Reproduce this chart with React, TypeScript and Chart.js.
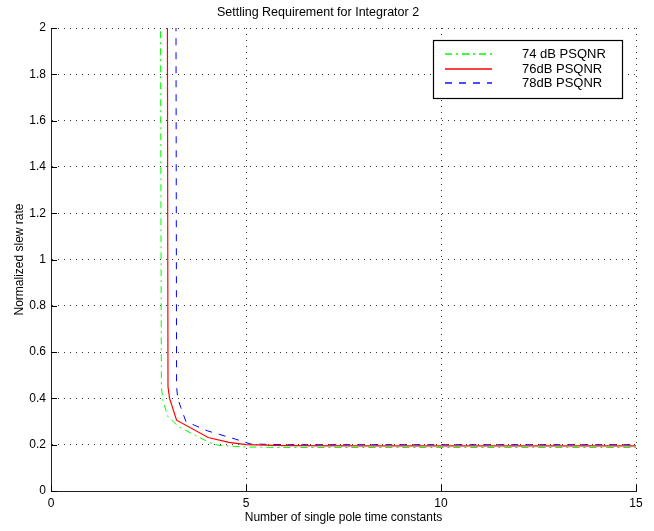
import React, { useEffect, useRef } from "react";
import { Chart, registerables } from "chart.js";

Chart.register(...registerables);

const TITLE = "Settling Requirement for Integrator 2";
const X_LABEL = "Number of single pole time constants";
const Y_LABEL = "Normalized slew rate";

const SERIES_NAMES = ["74 dB PSQNR", "76dB PSQNR", "78dB PSQNR"];
const SERIES_COLORS = ["#00ff00", "#ff0000", "#0000ff"];
const SERIES_DASH = [[7, 4, 2, 4], [], [7, 7]];

// 74 dB PSQNR (green, dash-dot)
const X74 = [2.8, 2.83, 2.87, 3.0, 3.28, 4.05, 4.3, 5.0, 6.0, 8.0, 10.0, 12.0, 15.0];
const Y74 = [2.5, 0.45, 0.39, 0.32, 0.277, 0.21, 0.197, 0.19, 0.188, 0.188, 0.188, 0.188, 0.188];

// 76 dB PSQNR (red, solid)
const X76 = [2.98, 3.0, 3.04, 3.22, 4.03, 4.56, 5.0, 6.0, 8.0, 10.0, 12.0, 15.0];
const Y76 = [2.5, 0.45, 0.4, 0.306, 0.231, 0.21, 0.2, 0.196, 0.195, 0.195, 0.195, 0.195];

// 78 dB PSQNR (blue, dashed)
const X78 = [3.2, 3.22, 3.25, 3.33, 3.46, 4.01, 4.73, 5.12, 6.0, 8.0, 10.0, 12.0, 15.0];
const Y78 = [2.5, 0.45, 0.4, 0.36, 0.3, 0.26, 0.224, 0.203, 0.2, 0.2, 0.2, 0.2, 0.2];

const X_TICKS = [0, 5, 10, 15];
const X_TICK_LABELS = ["0", "5", "10", "15"];
const Y_TICKS = [0, 0.2, 0.4, 0.6, 0.8, 1, 1.2, 1.4, 1.6, 1.8, 2];
const Y_TICK_LABELS = ["0", "0.2", "0.4", "0.6", "0.8", "1", "1.2", "1.4", "1.6", "1.8", "2"];

const FONT = "'Liberation Sans', Arial, Helvetica, sans-serif";

const toPts = (xs: number[], ys: number[]) => xs.map((x, i) => ({ x, y: ys[i] }));

const inwardTicks = {
  id: "inwardTicks",
  afterDraw(chart: any) {
    const { ctx, chartArea, scales } = chart;
    const xs = scales.x;
    const ys = scales.y;
    ctx.save();
    ctx.strokeStyle = "#000";
    ctx.lineWidth = 1;
    ctx.setLineDash([]);
    ctx.beginPath();
    X_TICKS.forEach((v) => {
      const px = Math.round(xs.getPixelForValue(v)) + 0.5;
      ctx.moveTo(px, chartArea.bottom);
      ctx.lineTo(px, chartArea.bottom - 6);
    });
    Y_TICKS.forEach((v) => {
      const py = Math.round(ys.getPixelForValue(v)) + 0.5;
      ctx.moveTo(chartArea.left, py);
      ctx.lineTo(chartArea.left + 6, py);
    });
    ctx.stroke();
    ctx.restore();
  },
};

const matlabLegend = {
  id: "matlabLegend",
  afterDraw(chart: any) {
    const { ctx } = chart;
    const bx = 433.5, by = 40.5, bw = 189, bh = 58;
    ctx.save();
    ctx.setLineDash([]);
    ctx.fillStyle = "#fff";
    ctx.fillRect(bx, by, bw, bh);
    ctx.strokeStyle = "#000";
    ctx.lineWidth = 1.2;
    ctx.strokeRect(bx, by, bw, bh);
    const rows = [54, 69, 83];
    for (let i = 0; i < 3; i++) {
      const ry = rows[i];
      ctx.save();
      ctx.beginPath();
      ctx.strokeStyle = SERIES_COLORS[i];
      ctx.lineWidth = 1.4;
      ctx.setLineDash(SERIES_DASH[i]);
      ctx.moveTo(445, ry);
      ctx.lineTo(492, ry);
      ctx.stroke();
      ctx.restore();
    }
    ctx.fillStyle = "#000";
    ctx.font = `13px ${FONT}`;
    ctx.textBaseline = "middle";
    ctx.textAlign = "left";
    for (let i = 0; i < 3; i++) {
      ctx.fillText(SERIES_NAMES[i], 522, rows[i]);
    }
    ctx.restore();
  },
};

export default function App() {
  const ref = useRef<HTMLCanvasElement>(null);
  useEffect(() => {
    document.body.style.margin = "0";
    const mk = (i: number, xs: number[], ys: number[]) => ({
      label: SERIES_NAMES[i],
      data: toPts(xs, ys),
      borderColor: SERIES_COLORS[i],
      borderWidth: i === 1 ? 1.2 : 1,
      borderDash: SERIES_DASH[i],
      pointRadius: 0,
      fill: false,
      tension: 0,
    });
    const chart = new Chart(ref.current!, {
      type: "line",
      data: {
        datasets: [mk(0, X74, Y74), mk(1, X76, Y76), mk(2, X78, Y78)],
      },
      options: {
        animation: false,
        responsive: false,
        maintainAspectRatio: false,
        layout: { padding: { left: 0, right: 18, top: 0, bottom: 0 } },
        plugins: {
          legend: { display: false },
          tooltip: { enabled: false },
          title: {
            display: true,
            text: TITLE,
            color: "#000",
            font: { family: FONT, size: 12.5, weight: "normal" },
            padding: { top: 5, bottom: 8 },
          },
        },
        scales: {
          x: {
            type: "linear",
            min: 0,
            max: 15,
            afterBuildTicks: (s: any) => {
              s.ticks = X_TICKS.map((v) => ({ value: v }));
            },
            afterFit: (s: any) => {
              s.height = 40;
            },
            ticks: {
              color: "#000",
              font: { family: FONT, size: 12 },
              padding: 5,
              maxRotation: 0,
              callback: (_v: any, i: number) => X_TICK_LABELS[i],
            },
            grid: {
              color: "#333",
              lineWidth: 1,
              drawTicks: false,
            },
            border: { display: true, color: "#222", width: 1, dash: [1, 5] },
            title: {
              display: true,
              text: X_LABEL,
              color: "#000",
              font: { family: FONT, size: 12 },
              padding: { top: 0, bottom: 6 },
            },
          },
          y: {
            type: "linear",
            min: 0,
            max: 2,
            afterBuildTicks: (s: any) => {
              s.ticks = Y_TICKS.map((v) => ({ value: v }));
            },
            afterFit: (s: any) => {
              s.width = 51;
            },
            ticks: {
              color: "#000",
              font: { family: FONT, size: 12 },
              padding: 5,
              callback: (_v: any, i: number) => Y_TICK_LABELS[i],
            },
            grid: {
              color: "#333",
              lineWidth: 1,
              drawTicks: false,
            },
            border: { display: true, color: "#222", width: 1, dash: [1, 5] },
            title: {
              display: true,
              text: Y_LABEL,
              color: "#000",
              font: { family: FONT, size: 12 },
              padding: { top: 12, bottom: 0 },
            },
          },
        },
      },
      plugins: [inwardTicks, matlabLegend],
    });
    return () => chart.destroy();
  }, []);
  return (
    <div style={{ width: 654, height: 531, background: "#fff" }}>
      <canvas ref={ref} width={654} height={531} />
    </div>
  );
}
